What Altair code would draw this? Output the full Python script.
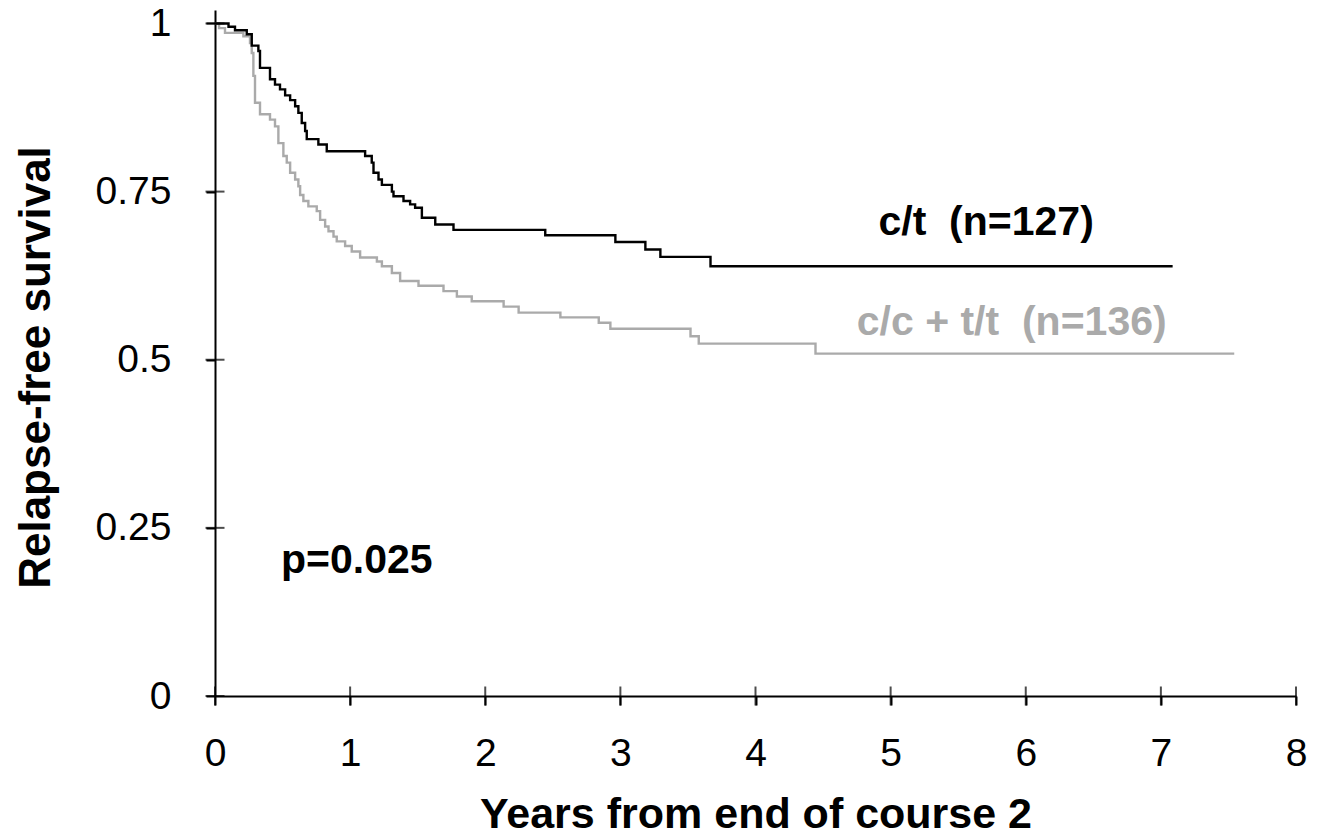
import altair as alt
import pandas as pd

# c/t group (black)
ct_time = [0, 0.10, 0.148, 0.235, 0.272, 0.321, 0.333, 0.407, 0.444, 0.481, 0.519, 0.556,
           0.593, 0.617, 0.642, 0.667, 0.679, 0.765, 0.827, 1.111, 1.16, 1.173, 1.21, 1.235,
           1.309, 1.321, 1.395, 1.444, 1.481, 1.531, 1.63, 1.765, 2.444, 2.963, 3.185, 3.296,
           3.667, 7.087]
ct_surv = [1.0, 0.995, 0.990, 0.984, 0.967, 0.959, 0.934, 0.917, 0.909, 0.902, 0.893, 0.886,
           0.877, 0.867, 0.852, 0.840, 0.828, 0.820, 0.810, 0.803, 0.793, 0.778, 0.768, 0.760,
           0.750, 0.743, 0.736, 0.731, 0.726, 0.711, 0.701, 0.693, 0.685, 0.675, 0.664, 0.653,
           0.639, 0.639]

# c/c + t/t group (grey)
cc_time = [0, 0.03, 0.074, 0.21, 0.259, 0.272, 0.284, 0.296, 0.333, 0.407, 0.444, 0.469,
           0.506, 0.531, 0.556, 0.593, 0.617, 0.630, 0.654, 0.691, 0.753, 0.778, 0.815, 0.840,
           0.877, 0.901, 0.963, 1.012, 1.074, 1.198, 1.235, 1.309, 1.370, 1.506, 1.691, 1.79,
           1.90, 2.136, 2.247, 2.556, 2.84, 2.926, 3.519, 3.58, 4.444, 7.543]
cc_surv = [1.0, 0.993, 0.986, 0.981, 0.971, 0.956, 0.922, 0.882, 0.865, 0.857, 0.847, 0.822,
           0.803, 0.793, 0.778, 0.768, 0.758, 0.745, 0.736, 0.728, 0.721, 0.708, 0.698, 0.691,
           0.683, 0.676, 0.669, 0.661, 0.652, 0.646, 0.639, 0.629, 0.617, 0.610, 0.602, 0.594,
           0.587, 0.579, 0.570, 0.563, 0.555, 0.546, 0.535, 0.524, 0.509, 0.509]

x_ticks = [0, 1, 2, 3, 4, 5, 6, 7, 8]
y_ticks = [0, 0.25, 0.5, 0.75, 1]

label_text = ["c/t\u00a0\u00a0(n=127)", "c/c + t/t\u00a0\u00a0(n=136)", "p=0.025"]
label_x = [5.707, 5.896, 1.049]
label_y = [0.686, 0.537, 0.183]
label_color = ["#000000", "#aaaaaa", "#000000"]

FONT = "Liberation Sans"

df_ct = pd.DataFrame({"t": ct_time, "s": ct_surv})
df_cc = pd.DataFrame({"t": cc_time, "s": cc_surv})
df_xt = pd.DataFrame({"t": x_ticks, "s": [0] * len(x_ticks)})
df_yt = pd.DataFrame({"t": [0] * len(y_ticks), "s": y_ticks})
df_lab = pd.DataFrame({"t": label_x, "s": label_y, "txt": label_text, "col": label_color})

xscale = alt.Scale(domain=[0, 8], nice=False, zero=False)
yscale = alt.Scale(domain=[0, 1.02], nice=False, zero=False)

xaxis = alt.Axis(values=x_ticks, format="d", title="Years from end of course 2",
                 grid=False, domainColor="black", domainWidth=2, tickColor="black",
                 tickWidth=2, tickSize=9, labelFont=FONT, labelFontSize=39,
                 labelColor="black", labelPadding=29, labelFlush=False, labelOverlap=False,
                 titleFont=FONT, titleFontSize=43,
                 titleFontWeight="bold", titleColor="black", titleBaseline="alphabetic",
                 titleY=131)
yaxis = alt.Axis(values=y_ticks, format="~g", title="Relapse-free survival",
                 grid=False, domainColor="black", domainWidth=2, tickColor="black",
                 tickWidth=2, tickSize=9, labelFont=FONT, labelFontSize=39,
                 labelColor="black", labelPadding=35, labelFlush=False, labelOverlap=False,
                 titleFont=FONT, titleFontSize=44,
                 titleFontWeight="bold", titleColor="black", titleBaseline="alphabetic",
                 titleAngle=270, titleX=-166, titleY=357, titleAlign="center")

base_x = alt.X("t:Q", scale=xscale, axis=xaxis)
base_y = alt.Y("s:Q", scale=yscale, axis=yaxis)

grey = alt.Chart(df_cc).mark_line(interpolate="step-after", color="#aaaaaa", strokeWidth=2.4).encode(
    x=base_x, y=base_y)
black = alt.Chart(df_ct).mark_line(interpolate="step-after", color="#000000", strokeWidth=2.4).encode(
    x=alt.X("t:Q", scale=xscale), y=alt.Y("s:Q", scale=yscale))

xt = alt.Chart(df_xt).mark_tick(orient="vertical", size=19, thickness=2, color="black").encode(
    x=alt.X("t:Q", scale=xscale), y=alt.Y("s:Q", scale=yscale))
yt = alt.Chart(df_yt).mark_tick(orient="horizontal", size=19, thickness=2, color="black").encode(
    x=alt.X("t:Q", scale=xscale), y=alt.Y("s:Q", scale=yscale))

labels = alt.Chart(df_lab).mark_text(font=FONT, fontSize=41, fontWeight="bold",
                                     baseline="alphabetic", align="center").encode(
    x=alt.X("t:Q", scale=xscale), y=alt.Y("s:Q", scale=yscale),
    text="txt:N", color=alt.Color("col:N", scale=None))

chart = alt.layer(grey, black, xt, yt, labels).properties(
    width=1081, height=686,
    background="white",
    autosize=alt.AutoSizeParams(type="none"),
    padding={"left": 207, "top": 2, "right": 12, "bottom": 135},
).configure_view(strokeWidth=0, stroke="transparent")

chart.save("out.html", embed_options={"renderer": "svg", "actions": False})
